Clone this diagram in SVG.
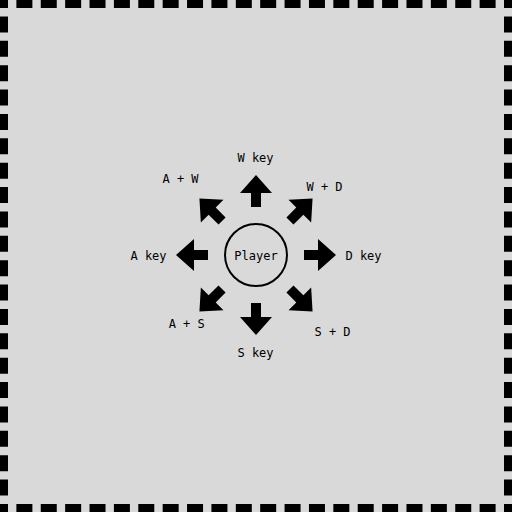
<svg xmlns="http://www.w3.org/2000/svg" width="512" height="512" viewBox="0 0 512 512">
  <style>
    .edge { stroke: #000; stroke-width: 8; fill: none; stroke-dasharray: 16 8.381; stroke-dashoffset: 16; }
    .corner { fill: #000; }
    .lbl { font-family: "DejaVu Sans Mono", "Liberation Mono", monospace; font-size: 12px; fill: #000; text-anchor: middle; }
    .arrow { fill: #000; }
  </style>
  <defs>
    <path id="arr" d="M48,-5 H62 V-16 L80,0 L62,16 V5 H48 Z"/>
  </defs>
  <rect x="0" y="0" width="512" height="512" fill="#d9d9d9"/>
  <g id="border">
    <line class="edge" x1="8" y1="4" x2="504" y2="4"/>
    <line class="edge" x1="8" y1="508" x2="504" y2="508"/>
    <line class="edge" x1="4" y1="8" x2="4" y2="504"/>
    <line class="edge" x1="508" y1="8" x2="508" y2="504"/>
    <rect class="corner" x="0" y="0" width="8" height="8"/>
    <rect class="corner" x="504" y="0" width="8" height="8"/>
    <rect class="corner" x="0" y="504" width="8" height="8"/>
    <rect class="corner" x="504" y="504" width="8" height="8"/>
  </g>
  <g id="player">
    <circle cx="256" cy="255" r="31" fill="none" stroke="#000" stroke-width="2"/>
    <text class="lbl" x="256" y="260">Player</text>
  </g>
  <g id="connectors">
    <use href="#arr" class="arrow" transform="translate(256,255) rotate(-90)"/>
    <use href="#arr" class="arrow" transform="translate(256,255) rotate(-45)"/>
    <use href="#arr" class="arrow" transform="translate(256,255) rotate(0)"/>
    <use href="#arr" class="arrow" transform="translate(256,255) rotate(45)"/>
    <use href="#arr" class="arrow" transform="translate(256,255) rotate(90)"/>
    <use href="#arr" class="arrow" transform="translate(256,255) rotate(135)"/>
    <use href="#arr" class="arrow" transform="translate(256,255) rotate(180)"/>
    <use href="#arr" class="arrow" transform="translate(256,255) rotate(-135)"/>
  </g>
  <g id="w-key"><text class="lbl" x="255.5" y="162">W key</text></g>
  <g id="w-d"><text class="lbl" x="324.5" y="190.5">W + D</text></g>
  <g id="d-key"><text class="lbl" x="363.5" y="259.5">D key</text></g>
  <g id="s-d"><text class="lbl" x="332.5" y="335.5">S + D</text></g>
  <g id="s-key"><text class="lbl" x="255.5" y="356.5">S key</text></g>
  <g id="a-s"><text class="lbl" x="186.7" y="328">A + S</text></g>
  <g id="a-key"><text class="lbl" x="148.5" y="259.5">A key</text></g>
  <g id="a-w"><text class="lbl" x="180.5" y="183">A + W</text></g>
</svg>
